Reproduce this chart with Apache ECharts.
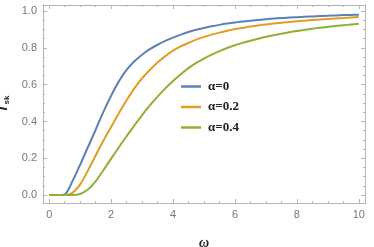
<!DOCTYPE html>
<html><head><meta charset="utf-8">
<script src="https://cdn.jsdelivr.net/npm/echarts@6/dist/echarts.min.js"></script>
<style>html,body{margin:0;padding:0;background:#fff}#c{width:374px;height:247px}</style>
</head><body><div id="c"></div>
<script>
var omega  = [0,0.25,0.5,0.75,1,1.25,1.5,1.75,2,2.25,2.5,2.75,3,3.25,3.5,3.75,4,4.25,4.5,4.75,5,5.25,5.5,5.75,6,6.25,6.5,6.75,7,7.25,7.5,7.75,8,8.25,8.5,8.75,9,9.25,9.5,9.75,10];
var alpha0 = [0,0,0.004,0.075,0.165,0.26,0.355,0.452,0.54,0.618,0.68,0.727,0.763,0.793,0.817,0.838,0.856,0.872,0.886,0.898,0.908,0.917,0.925,0.932,0.938,0.943,0.948,0.952,0.956,0.959,0.962,0.965,0.967,0.969,0.971,0.973,0.975,0.976,0.978,0.979,0.98];
var alpha2 = [0,0,0,0.012,0.058,0.133,0.215,0.295,0.37,0.445,0.515,0.58,0.635,0.68,0.72,0.755,0.785,0.808,0.827,0.845,0.86,0.872,0.883,0.893,0.902,0.909,0.916,0.922,0.927,0.932,0.937,0.941,0.945,0.948,0.951,0.954,0.957,0.96,0.963,0.965,0.968];
var alpha4 = [0,0,0,0,0.006,0.03,0.075,0.135,0.198,0.26,0.32,0.378,0.435,0.487,0.535,0.58,0.62,0.657,0.69,0.718,0.742,0.763,0.782,0.799,0.814,0.827,0.839,0.85,0.86,0.869,0.877,0.885,0.892,0.898,0.904,0.909,0.914,0.919,0.923,0.927,0.931];
var seriesNames = ['α=0', 'α=0.2', 'α=0.4'];
var xMajor = [0, 2, 4, 6, 8, 10];
var xMinor = [0.5, 1, 1.5, 2.5, 3, 3.5, 4.5, 5, 5.5, 6.5, 7, 7.5, 8.5, 9, 9.5];
var yMajor = [0, 0.2, 0.4, 0.6, 0.8, 1.0];
var yMinor = [0.05, 0.1, 0.15, 0.25, 0.3, 0.35, 0.45, 0.5, 0.55, 0.65, 0.7, 0.75, 0.85, 0.9, 0.95];

var colors = ['#5E81B5', '#E19C24', '#8FB032'];
var frame = '#b5b5b5';
function pairs(ys){ return omega.map(function(x,i){return [x, ys[i]];}); }

function xa(pos, ticks, len, labels, name){
  return {type:'value', position:pos, min:-0.2, max:10.2, gridIndex:0,
    axisLine:{show:true, onZero:false, lineStyle:{color:frame, width:1}},
    axisTick:{show:true, inside:true, length:len, customValues:ticks, lineStyle:{color:frame}},
    axisLabel:{show:labels, customValues:ticks, color:'#777', fontSize:11, fontFamily:'Liberation Sans', margin:6,
      formatter:function(v){return String(v);}},
    splitLine:{show:false},
    name: name||'', nameLocation:'middle', nameGap:33,
    nameTextStyle:{fontFamily:'Liberation Serif', fontWeight:'bold', fontStyle:'italic', fontSize:14, color:'#222'}
  };
}
function ya(pos, ticks, len, labels, name){
  return {type:'value', position:pos, min:-0.043, max:1.033, gridIndex:0,
    axisLine:{show:true, onZero:false, lineStyle:{color:frame, width:1}},
    axisTick:{show:true, inside:true, length:len, customValues:ticks, lineStyle:{color:frame}},
    axisLabel:{show:labels, customValues:ticks, color:'#777', fontSize:11, fontFamily:'Liberation Sans', margin:6,
      formatter:function(v){return v.toFixed(1);}},
    splitLine:{show:false},
    name: name||'', nameLocation:'middle', nameGap:27, nameRotate:90,
    nameTextStyle:{rich:{
      t:{fontFamily:'Liberation Sans', fontWeight:'bold', fontStyle:'italic', fontSize:13, color:'#222'},
      s:{fontFamily:'Liberation Sans', fontWeight:'bold', fontSize:8, color:'#222', padding:[6,0,0,0]}
    }}
  };
}

var chart = echarts.init(document.getElementById('c'), null, {renderer:'canvas'});
chart.setOption({
  animation:false,
  grid:{left:43, right:9, top:5, bottom:44, containLabel:false, outerBoundsMode:'none'},
  xAxis:[
    xa('bottom', xMajor, 4, true, 'ω'),
    xa('bottom', xMinor, 2, false),
    xa('top', xMajor, 4, false),
    xa('top', xMinor, 2, false)
  ],
  yAxis:[
    ya('left', yMajor, 4, true, '{t|T}{s|sk}'),
    ya('left', yMinor, 2, false),
    ya('right', yMajor, 4, false),
    ya('right', yMinor, 2, false)
  ],
  legend:{orient:'vertical', left:176, top:75, itemGap:7.5, itemWidth:20, itemHeight:2.5, icon:'rect',
    textStyle:{fontFamily:'Liberation Serif', fontWeight:'bold', fontSize:13, color:'#222', padding:[0,0,0,2]},
    data:seriesNames},
  series:[alpha0, alpha2, alpha4].map(function(d,i){
    return {name:seriesNames[i], type:'line', xAxisIndex:0, yAxisIndex:0, data:pairs(d),
      smooth:0.3, showSymbol:false, symbol:'none', lineStyle:{color:colors[i], width:2}, itemStyle:{color:colors[i]}};
  })
});
</script></body></html>
